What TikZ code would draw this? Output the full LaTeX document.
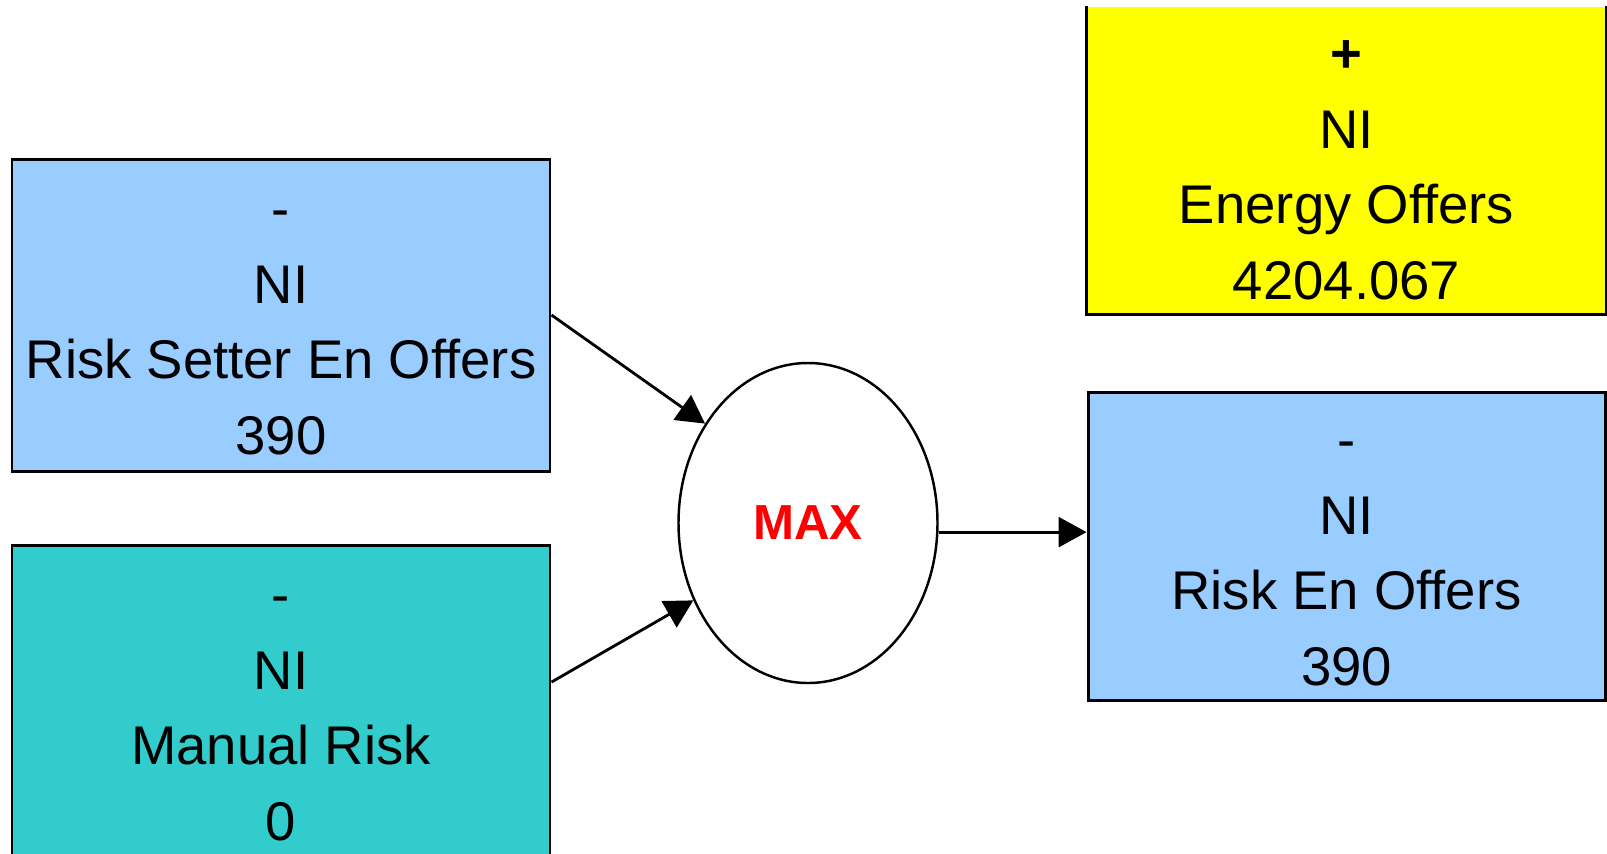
\documentclass[tikz,border=0pt]{standalone}
\usepackage{fontspec}
\setmainfont{Liberation Sans}
\usepackage{tikz}
\usetikzlibrary{arrows.meta,shapes.geometric}

\definecolor{riskblue}{HTML}{99CCFF}
\definecolor{manualteal}{HTML}{33CCCC}
\definecolor{offeryellow}{HTML}{FFFF00}

\begin{document}
\begin{tikzpicture}
		[box/.style={rectangle,inner sep=0pt,align=center,line width=0.85pt,font=\fontsize{15.5}{21.5}\selectfont},
		op/.style={ellipse,draw,line width=0.7pt,fill=white,minimum width=2.59cm,minimum height=3.2cm,text=red,font=\fontsize{14}{16}\selectfont\bfseries},
		edge/.style={-{Triangle[length=2.8mm,width=3mm]},line width=0.8pt}]
		\useasboundingbox (0,0) rectangle (16.07,8.53);
		\clip (0,0) rectangle (16.07,8.53);
		\node[box,draw,fill=riskblue,minimum width=5.38cm,minimum height=3.12cm] (rso) at (2.81,5.38) {\strut-\\NI\\Risk Setter En Offers\\390};
		\node[box,draw,fill=manualteal,minimum width=5.38cm,minimum height=3.12cm] (mr) at (2.81,1.52) {\strut-\\NI\\Manual Risk\\0};
		\node[op] (maxop) at (8.08,3.30) {MAX};
		\node[box,fill=offeryellow,minimum width=5.17cm,minimum height=3.06cm] (eo) at (13.465,6.93) {\strut\textbf{+}\\NI\\Energy Offers\\4204.067};
		\node[box,draw,fill=riskblue,minimum width=5.17cm,minimum height=3.08cm] (reo) at (13.465,3.07) {\strut-\\NI\\Risk En Offers\\390};
		
		% yellow box is open at the top
		\draw[line width=0.85pt] (eo.north west) -- (eo.south west) -- (eo.south east) -- (eo.north east);
		
		\foreach \from/\to in {rso.east/maxop.136,mr.4/maxop.214,maxop.356.5/maxop.356.5 -| reo.west}
		\draw[edge] (\from) -- (\to);
		\end{tikzpicture}
\end{document}
